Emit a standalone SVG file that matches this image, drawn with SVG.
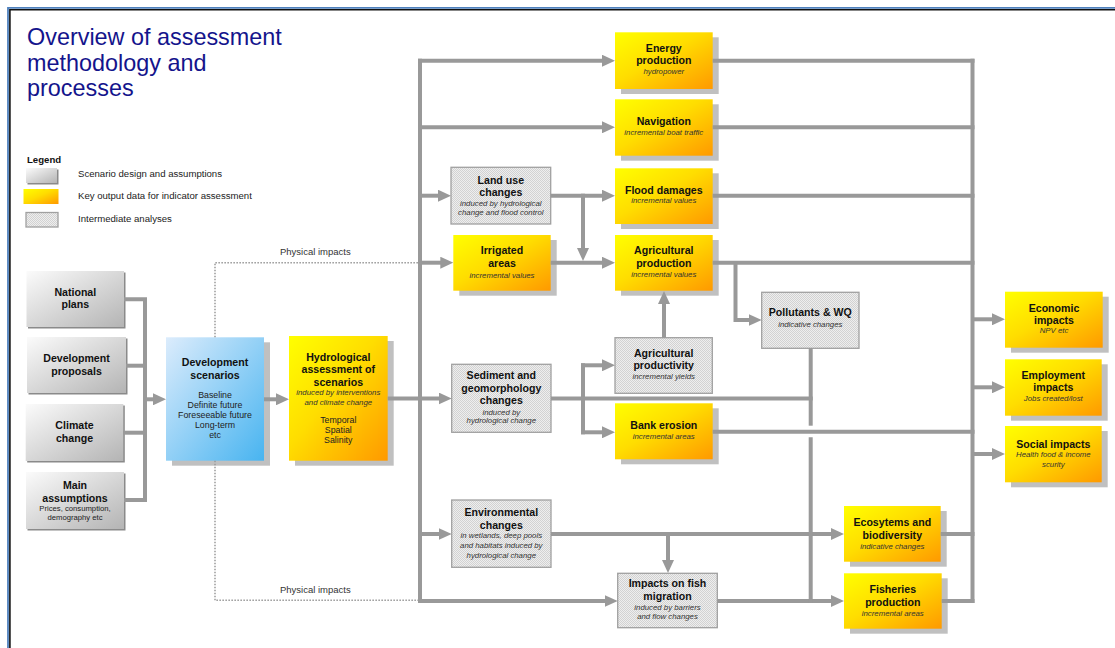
<svg xmlns="http://www.w3.org/2000/svg" width="1115" height="648" viewBox="0 0 1115 648">
<defs>
<linearGradient id="gy" x1="0" y1="0" x2="1" y2="1"><stop offset="0" stop-color="#ffff00"/><stop offset="0.45" stop-color="#ffdd00"/><stop offset="1" stop-color="#ff9900"/></linearGradient>
<linearGradient id="gb" x1="0" y1="0" x2="1" y2="1"><stop offset="0" stop-color="#dcecfc"/><stop offset="1" stop-color="#48b4f0"/></linearGradient>
<linearGradient id="gg" x1="0" y1="0" x2="1" y2="1"><stop offset="0" stop-color="#fbfbfb"/><stop offset="1" stop-color="#b4b4b4"/></linearGradient>
<pattern id="hatch" width="2" height="2" patternUnits="userSpaceOnUse"><rect width="2" height="2" fill="#eeeeee"/><rect width="1" height="1" fill="#d2d2d2"/><rect x="1" y="1" width="1" height="1" fill="#d2d2d2"/></pattern>
<marker id="ah" markerUnits="userSpaceOnUse" markerWidth="13" markerHeight="12" refX="3" refY="6" orient="auto"><path d="M0,0 L13,6 L0,12 z" fill="#999999"/></marker>
</defs>
<style>
.t{font-family:"Liberation Sans",Arial,sans-serif;font-weight:bold;font-size:10.6px;fill:#111;text-anchor:middle}
.s{font-family:"Liberation Sans",Arial,sans-serif;font-style:italic;font-size:7.8px;fill:#333;text-anchor:middle}
.r{font-family:"Liberation Sans",Arial,sans-serif;font-size:8.8px;fill:#222;text-anchor:middle}
.p{font-family:"Liberation Sans",Arial,sans-serif;font-size:7.7px;fill:#222;text-anchor:middle}
.lg{font-family:"Liberation Sans",Arial,sans-serif;font-size:9.6px;fill:#222}
.ti{font-family:"Liberation Sans",Arial,sans-serif;font-size:23.4px;fill:#14148c}
.sh{fill:#c0c0c0}
.shg{fill:#8a8a8a}
.y{fill:url(#gy)}
.b{fill:url(#gb)}
.g{fill:url(#gg)}
.h{fill:url(#hatch);stroke:#a0a0a0;stroke-width:1.3}
.c{fill:none;stroke:#999999;stroke-width:4}
.a{fill:none;stroke:#999999;stroke-width:4;marker-end:url(#ah)}
.d{fill:none;stroke:#999999;stroke-width:1.5;stroke-dasharray:1.5,1.5}
</style>
<rect width="1115" height="648" fill="#ffffff"/>
<g id="frame">
<path d="M8,648 V7.9 H1115" fill="none" stroke="#4f81bd" stroke-width="1.8"/>
<path d="M9.9,648 V9.8 H1115" fill="none" stroke="#111111" stroke-width="1.6"/>
</g>
<g id="title">
<text x="27" y="45" class="ti">Overview of assessment</text>
<text x="27" y="70.7" class="ti">methodology and</text>
<text x="27" y="96.3" class="ti">processes</text>
</g>
<g id="legend">
<text x="27" y="162.7" font-family="Liberation Sans, Arial, sans-serif" font-size="9.6" font-weight="bold" fill="#111">Legend</text>
<rect x="27.5" y="169.5" width="31" height="15" class="shg"/>
<rect x="26" y="168" width="31" height="15" class="g"/>
<text x="78" y="177" class="lg">Scenario design and assumptions</text>
<rect x="23.5" y="189" width="35" height="15" class="y"/>
<text x="78" y="198.5" class="lg">Key output data for indicator assessment</text>
<rect x="26" y="212.5" width="32" height="14.5" class="h"/>
<text x="78" y="221.5" class="lg">Intermediate analyses</text>
</g>
<g id="national">
<rect x="28" y="272.5" width="97.5" height="56" class="shg"/>
<rect x="26.5" y="271" width="97.5" height="56" class="g"/>
<text x="75.3" y="296" class="t">National</text><text x="75.3" y="308" class="t">plans</text>
</g>
<g id="devproposals">
<rect x="28.5" y="338.5" width="99" height="56" class="shg"/>
<rect x="27" y="337" width="99" height="56" class="g"/>
<text x="76.5" y="361.7" class="t">Development</text><text x="76.5" y="374.7" class="t">proposals</text>
</g>
<g id="climate">
<rect x="27.2" y="405.5" width="97.6" height="57" class="shg"/>
<rect x="25.7" y="404" width="97.6" height="57" class="g"/>
<text x="74.5" y="429.3" class="t">Climate</text><text x="74.5" y="441.7" class="t">change</text>
</g>
<g id="mainassumptions">
<rect x="27.5" y="473.5" width="98" height="57" class="shg"/>
<rect x="26" y="472" width="98" height="57" class="g"/>
<text x="75" y="488.7" class="t">Main</text><text x="75" y="501.7" class="t">assumptions</text>
<text x="75" y="510.5" class="p">Prices, consumption,</text><text x="75" y="520.3" class="p">demography etc</text>
</g>
<g id="devscenarios">
<rect x="172" y="342.3" width="98" height="123.4" class="sh"/>
<rect x="166" y="337.3" width="98" height="123.4" class="b"/>
<text x="215" y="365.7" class="t">Development</text><text x="215" y="378.7" class="t">scenarios</text>
<text x="215" y="398.3" class="r">Baseline</text><text x="215" y="408.3" class="r">Definite future</text><text x="215" y="418.3" class="r">Foreseeable future</text><text x="215" y="428.3" class="r">Long-term</text><text x="215" y="438.3" class="r">etc</text>
</g>
<g id="hydro">
<rect x="295" y="341" width="98.7" height="124.7" class="sh"/>
<rect x="289" y="336" width="98.7" height="124.7" class="y"/>
<text x="338.3" y="360.5" class="t">Hydrological</text><text x="338.3" y="373" class="t">assessment of</text><text x="338.3" y="385.5" class="t">scenarios</text>
<text x="338.3" y="395" class="s">induced by interventions</text><text x="338.3" y="405" class="s">and climate change</text>
<text x="338.3" y="423.3" class="r">Temporal</text><text x="338.3" y="432.7" class="r">Spatial</text><text x="338.3" y="442.7" class="r">Salinity</text>
</g>
<g id="landuse">
<rect x="451" y="167.3" width="99.7" height="56.7" class="h"/>
<text x="500.8" y="184" class="t">Land use</text><text x="500.8" y="196" class="t">changes</text>
<text x="500.8" y="205.7" class="s">induced by hydrological</text><text x="500.8" y="214.7" class="s">change and flood control</text>
</g>
<g id="irrigated">
<rect x="459.3" y="240" width="97.4" height="55.7" class="sh"/>
<rect x="453.3" y="235" width="97.4" height="55.7" class="y"/>
<text x="502" y="254.3" class="t">Irrigated</text><text x="502" y="267.3" class="t">areas</text>
<text x="502" y="277.7" class="s">incremental values</text>
</g>
<g id="sediment">
<rect x="451.7" y="364.3" width="99.3" height="68" class="h"/>
<text x="501.3" y="379.3" class="t">Sediment and</text><text x="501.3" y="392.3" class="t">geomorphology</text><text x="501.3" y="404.3" class="t">changes</text>
<text x="501.3" y="414.7" class="s">induced by</text><text x="501.3" y="423.3" class="s">hydrological change</text>
</g>
<g id="environmental">
<rect x="451.7" y="500" width="99.3" height="67.3" class="h"/>
<text x="501.3" y="516" class="t">Environmental</text><text x="501.3" y="529" class="t">changes</text>
<text x="501.3" y="538.3" class="s">in wetlands, deep pools</text><text x="501.3" y="548.3" class="s">and habitats induced by</text><text x="501.3" y="557.7" class="s">hydrological change</text>
</g>
<g id="energy">
<rect x="621" y="37.3" width="97.7" height="56.7" class="sh"/>
<rect x="615" y="32.3" width="97.7" height="56.7" class="y"/>
<text x="663.8" y="52.3" class="t">Energy</text><text x="663.8" y="64.3" class="t">production</text>
<text x="663.8" y="74" class="s">hydropower</text>
</g>
<g id="navigation">
<rect x="621" y="104.3" width="97.7" height="56.4" class="sh"/>
<rect x="615" y="99.3" width="97.7" height="56.4" class="y"/>
<text x="663.8" y="125" class="t">Navigation</text>
<text x="663.8" y="135" class="s">incremental boat traffic</text>
</g>
<g id="flood">
<rect x="621" y="173.3" width="97.7" height="55.7" class="sh"/>
<rect x="615" y="168.3" width="97.7" height="55.7" class="y"/>
<text x="663.8" y="194" class="t">Flood damages</text>
<text x="663.8" y="203.3" class="s">incremental values</text>
</g>
<g id="agriproduction">
<rect x="621" y="240" width="97.7" height="55.7" class="sh"/>
<rect x="615" y="235" width="97.7" height="55.7" class="y"/>
<text x="663.8" y="254" class="t">Agricultural</text><text x="663.8" y="267" class="t">production</text>
<text x="663.8" y="277.3" class="s">incremental values</text>
</g>
<g id="agriproductivity">
<rect x="615" y="337.7" width="97.3" height="55.6" class="h"/>
<text x="663.7" y="356.7" class="t">Agricultural</text><text x="663.7" y="369" class="t">productivity</text>
<text x="663.7" y="379.3" class="s">incremental yields</text>
</g>
<g id="bankerosion">
<rect x="621" y="408.3" width="97.7" height="56" class="sh"/>
<rect x="615" y="403.3" width="97.7" height="56" class="y"/>
<text x="663.8" y="429.3" class="t">Bank erosion</text>
<text x="663.8" y="439" class="s">incremental areas</text>
</g>
<g id="fishmigration">
<rect x="617.7" y="573.3" width="99.6" height="54.4" class="h"/>
<text x="667.5" y="586.7" class="t">Impacts on fish</text><text x="667.5" y="600" class="t">migration</text>
<text x="667.5" y="610" class="s">induced by barriers</text><text x="667.5" y="619" class="s">and flow changes</text>
</g>
<g id="pollutants">
<rect x="761.7" y="292.3" width="97.3" height="56" class="h"/>
<text x="810.3" y="315.7" class="t">Pollutants &amp; WQ</text>
<text x="810.3" y="326.7" class="s">indicative changes</text>
</g>
<g id="ecosystems">
<rect x="850" y="511" width="96.7" height="55.7" class="sh"/>
<rect x="844" y="506" width="96.7" height="55.7" class="y"/>
<text x="892.3" y="525.7" class="t">Ecosytems and</text><text x="892.3" y="538.7" class="t">biodiversity</text>
<text x="892.3" y="548.7" class="s">indicative changes</text>
</g>
<g id="fisheries">
<rect x="850" y="578.3" width="97.7" height="55.4" class="sh"/>
<rect x="844" y="573.3" width="97.7" height="55.4" class="y"/>
<text x="892.8" y="592.7" class="t">Fisheries</text><text x="892.8" y="605.7" class="t">production</text>
<text x="892.8" y="615.7" class="s">incremental areas</text>
</g>
<g id="economic">
<rect x="1011" y="296.7" width="97.7" height="56" class="sh"/>
<rect x="1005" y="291.7" width="97.7" height="56" class="y"/>
<text x="1054" y="311.7" class="t">Economic</text><text x="1054" y="323.7" class="t">impacts</text>
<text x="1054" y="333.3" class="s">NPV etc</text>
</g>
<g id="employment">
<rect x="1011" y="364.3" width="96.7" height="56.4" class="sh"/>
<rect x="1005" y="359.3" width="96.7" height="56.4" class="y"/>
<text x="1053.3" y="379.3" class="t">Employment</text><text x="1053.3" y="391.3" class="t">impacts</text>
<text x="1053.3" y="401.3" class="s">Jobs created/lost</text>
</g>
<g id="social">
<rect x="1011" y="431" width="96.7" height="56.3" class="sh"/>
<rect x="1005" y="426" width="96.7" height="56.3" class="y"/>
<text x="1053.3" y="447.7" class="t">Social impacts</text>
<text x="1053.3" y="457.3" class="s">Health food &amp; income</text><text x="1053.3" y="466.7" class="s">scurity</text>
</g>
<g id="connectors">
<path class="c" d="M124,299.3 H145 V500 H124"/>
<path class="c" d="M126,365.7 H145"/>
<path class="c" d="M123.3,432.7 H145"/>
<path class="a" d="M145,399.3 H156"/>
<path class="a" d="M264,399.3 H279"/>
<path class="c" d="M420,58.7 V603"/>
<path class="a" d="M418,60.7 H605"/>
<path class="a" d="M420,127.3 H605"/>
<path class="a" d="M420,195.7 H441"/>
<path class="a" d="M420,262.7 H443.3"/>
<path class="a" d="M387.7,398.5 H441.7"/>
<path class="a" d="M420,534 H441.7"/>
<path class="a" d="M418,601 H607.7"/>
<path class="a" d="M550.7,195.7 H605"/>
<path class="a" d="M583,193.7 V251"/>
<path class="a" d="M550.7,262.7 H605"/>
<path class="a" d="M664,337.7 V301"/>
<path class="c" d="M583,363.3 V434.3"/>
<path class="a" d="M581,365.3 H605"/>
<path class="a" d="M581,432.3 H605"/>
<path class="c" d="M551,398.5 H812.7"/>
<path class="a" d="M551,534 H834"/>
<path class="a" d="M668,534 V563"/>
<path class="a" d="M717.3,601 H834"/>
<path class="c" d="M712.7,262.7 H974.5"/>
<path class="a" d="M735.5,262.7 V320 H751.7"/>
<path class="c" d="M810.7,348.3 V425.7"/>
<path class="c" d="M810.7,437.3 V603"/>
<path class="c" d="M712.7,431.7 H974.5"/>
<path class="c" d="M712.7,60.7 H974.5"/>
<path class="c" d="M712.7,127.3 H974.5"/>
<path class="c" d="M712.7,195.7 H974.5"/>
<path class="c" d="M940.7,534 H974.5"/>
<path class="c" d="M941.7,601 H974.5"/>
<path class="c" d="M972.5,58.7 V603"/>
<path class="a" d="M972.5,319.3 H995"/>
<path class="a" d="M972.5,387.3 H995"/>
<path class="a" d="M972.5,454 H995"/>
<path class="d" d="M215,337.3 V262.7 H420"/>
<path class="d" d="M215,460.7 V600.3 H420"/>
<text x="280" y="255.3" font-family="Liberation Sans, Arial, sans-serif" font-size="9.5" fill="#333">Physical impacts</text>
<text x="280" y="593.3" font-family="Liberation Sans, Arial, sans-serif" font-size="9.5" fill="#333">Physical impacts</text>
</g>
</svg>
